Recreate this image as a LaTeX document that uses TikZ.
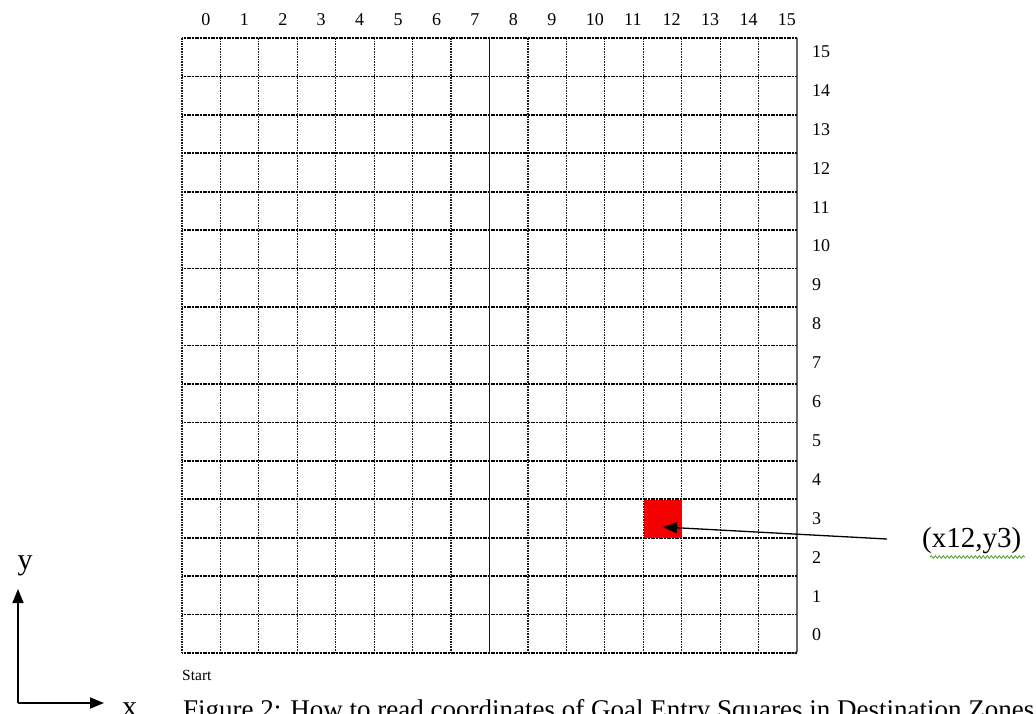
\documentclass[tikz,border=0pt]{standalone}
\usepackage{fontspec}
\setmainfont{Liberation Serif}
\usepackage{xcolor}
\definecolor{goalred}{HTML}{F20000}
\definecolor{squig}{HTML}{4E9A28}
\usepackage{tikz}
\usetikzlibrary{arrows.meta,positioning,decorations.pathmorphing}

\begin{document}
\begin{tikzpicture}[
  x=1pt, y=-1pt,
  hline/.style={black, line width=1.7pt, dash pattern=on 1.1pt off 0.5pt},
  vline/.style={black!90, line width=1.2pt, dash pattern=on 1.6pt off 1pt},
  solid line/.style={black!90, line width=1.4pt},
  num/.style={font=\fontsize{18}{18}\selectfont, inner sep=0pt, anchor=west},
  arr/.style={-{Triangle[length=14pt,width=11pt]}, line width=1.3pt},
  axis/.style={-{Triangle[length=14pt,width=11pt]}, line width=1.7pt}
]
  \useasboundingbox (0,0) rectangle (1036,713);
  \def\cw{38.4375}
  % grid
  \foreach \j in {0,...,16}
    \draw[hline] (182,38+\j*\cw) -- (797,38+\j*\cw);
  \foreach \i in {0,...,15}{
    \ifnum\i=8\relax\else
      \draw[vline] (182+\i*\cw,38) -- (182+\i*\cw,653);
    \fi
  }
  \draw[solid line] (182+8*\cw,38) -- (182+8*\cw,653);
  \draw[solid line, rounded corners=2pt] (797,38) -- (797,653) -- (790,653);
  \node[fill=goalred, minimum size=\cw pt, inner sep=0pt, anchor=north west]
    (goal) at (182+12*\cw+0.6,38+12*\cw+0.6) {};
  % labels
  \foreach \i in {0,...,15}
    \node[num] (col\i) at (182+\i*\cw+0.5*\cw,20) {\i};
  \foreach \j in {0,...,15}
    \node[num] (row\j) at (812,635-\j*38.9) {\j};
  \node[font=\fontsize{15.5}{15.5}\selectfont, inner sep=0pt, anchor=west] (start) at (182,675) {Start};
  % pointer
  \node[font=\fontsize{29}{29}\selectfont, inner sep=0pt, anchor=west] (lbl) at (922,541) {(x12,y3)};
  \coordinate (tail) at (887,539);
  \coordinate (tip) at (663,527);
  \draw[arr] (tail) -- (tip);
  \draw[squig, line width=0.8pt, decorate,
    decoration={snake, amplitude=1.3pt, segment length=4pt}] (930,557) -- (1025,557);
  % axes
  \coordinate (origin) at (18,703);
  \coordinate (yend) at (18,589);
  \coordinate (xend) at (104,703);
  \draw[axis] (origin) -- (yend);
  \draw[axis] (origin) -- (xend);
  \node[font=\fontsize{30}{30}\selectfont, inner sep=0pt] (ylab) at (25,566) {y};
  \node[font=\fontsize{30}{30}\selectfont, inner sep=0pt, anchor=base west] (xlab) at (122,716) {x};
  % caption
  \node[font=\fontsize{27}{27}\selectfont, inner sep=0pt, anchor=base west] (cap) at (183,718)
    {Figure 2: How to read coordinates of Goal Entry Squares in Destination Zones};
\end{tikzpicture}
\end{document}
